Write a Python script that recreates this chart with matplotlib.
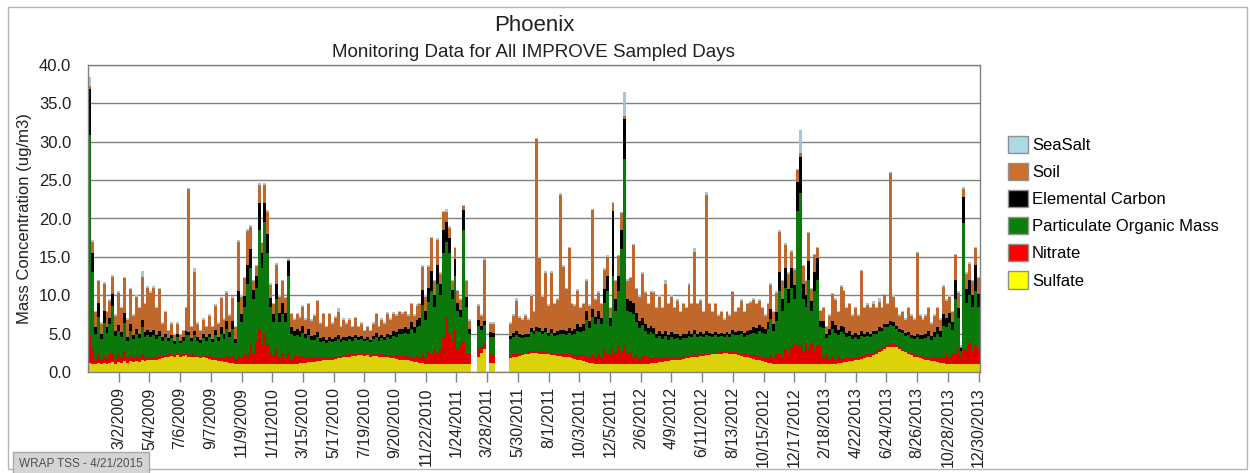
import datetime as dt

import numpy as np
import matplotlib
matplotlib.use("Agg")
import matplotlib.pyplot as plt
import matplotlib.dates as mdates
from matplotlib.patches import Patch, Rectangle

plt.rcParams["font.family"] = ["Liberation Sans", "DejaVu Sans"]

# IMPROVE samples, one kept every 6 days from 1/1/2009
first_sample = dt.date(2009, 1, 1)
sample_step_days = 6

# ug/m3, stacked bottom -> top: sulfate, nitrate, POM, EC, soil, sea salt
sulfate = [
    1.2, 1.0, 1.0, 1.2, 1.0, 1.2, 1.1, 1.2, 1.3, 1.1,
    1.3, 1.2, 1.4, 1.2, 1.4, 1.3, 1.4, 1.3, 1.5, 1.4,
    1.5, 1.5, 1.6, 1.6, 1.7, 1.8, 1.9, 2.0, 2.1, 2.0,
    2.2, 2.0, 2.1, 2.2, 2.0, 2.0, 2.0, 1.9, 1.8, 1.9,
    1.8, 1.7, 1.5, 1.5, 1.4, 1.4, 1.3, 1.3, 1.2, 1.2,
    1.1, 1.1, 1.0, 1.0, 1.0, 1.0, 1.0, 1.0, 1.0, 1.0,
    1.0, 1.0, 1.0, 1.0, 1.0, 1.0, 1.0, 1.0, 1.0, 1.0,
    1.1, 1.1, 1.2, 1.2, 1.2, 1.3, 1.3, 1.3, 1.4, 1.4,
    1.5, 1.5, 1.6, 1.6, 1.7, 1.8, 1.8, 1.9, 2.0, 2.0,
    2.1, 2.1, 2.2, 2.2, 2.1, 2.2, 2.0, 2.1, 2.1, 2.0,
    2.0, 1.9, 1.9, 1.8, 1.8, 1.7, 1.6, 1.6, 1.5, 1.5,
    1.4, 1.3, 1.3, 1.2, 1.2, 1.1, 1.1, 1.1, 1.0, 1.0,
    1.0, 1.0, 1.0, 1.0, 1.0, 1.0, 1.0, 1.0, 1.0, 1.0,
    1.0, 0.0, 0.0, 2.0, 2.5, 3.0, 0.0, 1.2, 1.2, 0.0,
    0.0, 0.0, 0.0, 0.0, 1.8, 2.0, 2.0, 2.1, 2.2, 2.3,
    2.4, 2.5, 2.5, 2.5, 2.4, 2.4, 2.3, 2.3, 2.2, 2.2,
    2.1, 2.1, 2.0, 2.0, 1.9, 1.8, 1.7, 1.6, 1.5, 1.4,
    1.3, 1.2, 1.2, 1.1, 1.1, 1.0, 1.0, 1.0, 1.0, 1.0,
    1.0, 1.0, 1.0, 1.0, 1.0, 1.0, 1.0, 1.0, 1.0, 1.1,
    1.1, 1.1, 1.2, 1.2, 1.2, 1.3, 1.3, 1.4, 1.4, 1.5,
    1.5, 1.6, 1.6, 1.7, 1.8, 1.8, 1.9, 2.0, 2.0, 2.1,
    2.1, 2.2, 2.2, 2.3, 2.3, 2.4, 2.4, 2.5, 2.5, 2.4,
    2.4, 2.3, 2.2, 2.1, 2.0, 1.9, 1.8, 1.7, 1.6, 1.5,
    1.4, 1.3, 1.2, 1.2, 1.1, 1.1, 1.0, 1.0, 1.0, 1.0,
    1.0, 1.0, 1.0, 1.0, 1.0, 1.0, 1.0, 1.0, 1.0, 1.0,
    1.0, 1.0, 1.0, 1.0, 1.1, 1.1, 1.2, 1.2, 1.3, 1.3,
    1.4, 1.4, 1.5, 1.6, 1.7, 1.8, 1.9, 2.0, 2.2, 2.4,
    2.6, 2.8, 3.0, 3.2, 3.3, 3.3, 3.2, 3.0, 2.8, 2.6,
    2.4, 2.2, 2.0, 1.9, 1.8, 1.7, 1.6, 1.5, 1.4, 1.4,
    1.3, 1.2, 1.2, 1.1, 1.1, 1.0, 1.0, 1.0, 1.0, 1.0,
    1.0, 1.0, 1.0, 1.0, 1.0,
]

nitrate = [
    3.5, 2.0, 0.7, 1.2, 0.5, 0.9, 0.6, 1.1, 1.2, 0.5,
    1.0, 0.8, 1.2, 0.6, 0.8, 0.6, 0.7, 0.6, 0.8, 0.6,
    0.5, 0.5, 0.4, 0.4, 0.4, 0.3, 0.3, 0.3, 0.3, 0.2,
    0.3, 0.2, 0.2, 0.3, 0.3, 0.2, 0.3, 0.2, 0.2, 0.3,
    0.3, 0.4, 0.4, 0.5, 0.5, 0.6, 0.6, 0.8, 0.8, 1.0,
    0.6, 1.0, 0.8, 1.5, 1.2, 2.5, 1.5, 3.0, 4.5, 2.5,
    4.0, 2.5, 1.5, 1.2, 2.0, 0.8, 1.5, 0.8, 1.5, 0.7,
    1.0, 1.0, 0.8, 0.9, 0.7, 0.7, 0.6, 0.5, 0.5, 0.4,
    0.4, 0.3, 0.3, 0.3, 0.3, 0.3, 0.2, 0.3, 0.2, 0.3,
    0.2, 0.3, 0.2, 0.2, 0.2, 0.2, 0.2, 0.2, 0.3, 0.2,
    0.3, 0.3, 0.3, 0.3, 0.4, 0.4, 0.5, 0.5, 0.6, 0.6,
    0.6, 0.5, 0.9, 0.6, 1.2, 0.8, 1.6, 1.2, 2.0, 1.5,
    2.0, 3.5, 6.0, 4.0, 3.0, 4.5, 2.0, 2.5, 3.0, 1.5,
    1.5, 0.0, 0.0, 1.0, 0.8, 0.6, 0.0, 1.2, 1.0, 0.0,
    0.0, 0.0, 0.0, 0.0, 0.3, 0.3, 0.3, 0.3, 0.2, 0.2,
    0.2, 0.3, 0.2, 0.3, 0.3, 0.2, 0.3, 0.2, 0.3, 0.2,
    0.3, 0.3, 0.3, 0.3, 0.4, 0.4, 0.5, 0.6, 0.7, 0.8,
    0.8, 0.6, 1.2, 0.8, 1.4, 1.0, 2.0, 1.5, 1.2, 2.0,
    1.5, 2.5, 1.8, 2.5, 1.5, 1.6, 1.0, 1.2, 0.7, 1.0,
    1.0, 0.8, 0.8, 0.7, 0.6, 0.6, 0.5, 0.5, 0.4, 0.4,
    0.4, 0.3, 0.3, 0.3, 0.3, 0.3, 0.3, 0.3, 0.2, 0.2,
    0.2, 0.2, 0.2, 0.2, 0.2, 0.2, 0.2, 0.2, 0.2, 0.2,
    0.3, 0.3, 0.3, 0.3, 0.3, 0.4, 0.4, 0.5, 0.5, 0.6,
    0.5, 0.7, 0.6, 1.0, 0.7, 1.2, 1.5, 1.0, 2.0, 1.4,
    2.2, 2.8, 2.5, 2.5, 1.8, 2.6, 2.0, 2.8, 1.8, 2.5,
    2.4, 1.0, 1.3, 0.7, 1.0, 0.6, 0.9, 0.5, 0.7, 0.5,
    0.6, 0.5, 0.5, 0.4, 0.4, 0.4, 0.4, 0.3, 0.3, 0.3,
    0.3, 0.3, 0.3, 0.3, 0.3, 0.3, 0.2, 0.2, 0.2, 0.2,
    0.2, 0.2, 0.3, 0.3, 0.3, 0.4, 0.4, 0.5, 0.5, 0.6,
    0.5, 0.8, 0.7, 1.2, 0.9, 1.5, 1.4, 2.0, 0.8, 2.0,
    1.8, 2.6, 1.6, 2.4, 2.0,
]

organic_mass = [
    26.2, 10.0, 3.3, 4.8, 2.8, 4.3, 3.4, 3.9, 6.1, 3.1,
    3.0, 2.6, 3.8, 2.2, 3.2, 2.4, 2.8, 2.5, 3.5, 2.6,
    2.8, 2.6, 2.8, 2.3, 2.6, 2.0, 2.3, 1.7, 2.0, 1.5,
    2.0, 1.6, 1.8, 2.3, 2.5, 1.8, 2.5, 2.0, 1.8, 2.2,
    2.0, 2.4, 2.0, 2.8, 2.2, 3.0, 2.4, 3.5, 2.6, 3.4,
    2.1, 7.0, 4.7, 6.0, 9.3, 10.0, 7.0, 7.0, 13.0, 10.0,
    14.5, 12.0, 6.0, 4.3, 6.5, 4.7, 5.0, 4.7, 10.0, 3.3,
    2.6, 2.7, 2.6, 3.0, 2.5, 2.8, 2.3, 2.4, 2.6, 2.1,
    2.2, 2.0, 2.2, 2.0, 2.1, 2.2, 1.9, 2.0, 1.9, 2.0,
    1.8, 2.0, 1.8, 1.9, 1.7, 1.8, 1.7, 2.0, 2.2, 1.9,
    2.1, 2.0, 2.3, 2.2, 2.5, 2.5, 2.8, 2.8, 3.0, 2.8,
    3.6, 3.3, 3.6, 4.2, 6.3, 4.9, 6.4, 8.3, 5.5, 9.0,
    7.0, 11.0, 10.0, 10.5, 5.5, 7.0, 5.0, 3.7, 14.5, 6.0,
    2.5, 0.0, 0.0, 3.0, 2.2, 2.5, 0.0, 2.2, 2.3, 0.0,
    0.0, 0.0, 0.0, 0.0, 2.2, 2.3, 2.5, 2.2, 2.0, 2.1,
    2.0, 2.4, 2.2, 2.5, 2.5, 2.3, 2.6, 2.2, 2.6, 2.3,
    2.4, 2.6, 2.7, 2.5, 2.8, 2.6, 2.8, 3.2, 3.0, 3.2,
    4.7, 3.9, 4.8, 4.3, 4.4, 4.2, 6.0, 8.0, 3.8, 9.5,
    5.5, 7.0, 13.2, 24.3, 5.5, 5.2, 5.5, 4.3, 4.0, 4.0,
    3.2, 3.0, 3.2, 3.0, 2.6, 2.8, 2.5, 2.8, 2.4, 2.6,
    2.4, 2.5, 2.3, 2.4, 2.3, 2.6, 2.3, 2.6, 2.3, 2.4,
    2.2, 2.4, 2.3, 2.1, 2.3, 2.0, 2.1, 1.9, 2.1, 2.0,
    2.3, 2.2, 2.3, 2.5, 2.3, 2.5, 2.7, 2.9, 2.9, 3.2,
    3.2, 2.9, 3.8, 4.7, 3.5, 4.3, 8.0, 6.0, 8.0, 6.6,
    7.8, 5.7, 17.5, 19.8, 6.7, 4.9, 9.0, 4.2, 7.7, 8.5,
    2.4, 3.7, 2.1, 3.1, 3.5, 3.4, 2.7, 3.5, 3.0, 2.7,
    2.7, 2.4, 2.5, 2.3, 2.6, 2.3, 2.4, 2.2, 2.4, 2.2,
    2.4, 2.2, 2.5, 2.3, 2.5, 2.4, 2.2, 2.0, 2.1, 1.9,
    2.2, 2.0, 2.0, 2.3, 2.2, 2.2, 2.4, 2.7, 2.3, 2.6,
    3.2, 2.6, 4.1, 3.5, 4.4, 3.0, 7.1, 4.0, 1.0, 16.4,
    6.2, 6.4, 5.9, 7.1, 5.5,
]

elemental_carbon = [
    6.0, 2.5, 0.8, 1.8, 0.6, 1.5, 0.8, 0.9, 1.6, 0.6,
    0.8, 0.6, 1.3, 0.5, 0.8, 0.5, 0.7, 0.6, 1.0, 0.6,
    0.7, 0.6, 0.7, 0.5, 0.6, 0.4, 0.5, 0.4, 0.4, 0.3,
    0.4, 0.3, 0.4, 0.5, 0.4, 0.4, 0.5, 0.4, 0.4, 0.5,
    0.4, 0.5, 0.4, 0.7, 0.5, 0.8, 0.6, 1.0, 0.6, 1.0,
    0.5, 1.5, 1.0, 1.4, 2.5, 2.5, 1.2, 1.5, 3.5, 2.0,
    2.5, 2.5, 1.2, 1.0, 2.0, 1.2, 1.5, 1.2, 2.0, 0.8,
    0.7, 0.8, 0.7, 0.9, 0.6, 0.8, 0.5, 0.6, 0.7, 0.5,
    0.5, 0.4, 0.5, 0.4, 0.4, 0.5, 0.4, 0.4, 0.4, 0.4,
    0.4, 0.4, 0.3, 0.4, 0.3, 0.3, 0.3, 0.4, 0.5, 0.4,
    0.4, 0.4, 0.5, 0.5, 0.6, 0.6, 0.7, 0.7, 0.8, 0.7,
    0.9, 0.8, 1.0, 1.0, 2.0, 1.2, 1.8, 2.5, 1.5, 2.5,
    1.5, 3.0, 2.5, 2.0, 1.2, 2.2, 1.0, 0.9, 2.6, 1.3,
    0.6, 0.0, 0.0, 0.8, 0.5, 0.5, 0.0, 0.6, 0.6, 0.0,
    0.0, 0.0, 0.0, 0.0, 0.4, 0.5, 0.6, 0.4, 0.4, 0.4,
    0.4, 0.5, 0.4, 0.5, 0.5, 0.4, 0.5, 0.4, 0.5, 0.4,
    0.5, 0.5, 0.5, 0.5, 0.6, 0.5, 0.6, 0.8, 0.7, 0.8,
    1.2, 0.9, 1.0, 1.0, 1.1, 0.9, 1.8, 2.0, 1.0, 8.5,
    1.5, 2.0, 2.5, 5.2, 1.5, 1.5, 1.5, 1.2, 1.0, 1.0,
    0.9, 0.8, 0.8, 0.8, 0.6, 0.7, 0.6, 0.7, 0.6, 0.7,
    0.6, 0.6, 0.5, 0.6, 0.5, 0.6, 0.5, 0.6, 0.5, 0.5,
    0.4, 0.5, 0.4, 0.4, 0.4, 0.4, 0.4, 0.3, 0.4, 0.4,
    0.5, 0.4, 0.5, 0.5, 0.5, 0.6, 0.6, 0.7, 0.7, 0.8,
    0.8, 0.7, 0.9, 1.3, 0.9, 1.2, 2.5, 1.5, 2.5, 1.8,
    2.5, 1.8, 3.8, 4.7, 2.0, 1.5, 2.5, 1.3, 2.5, 2.8,
    0.8, 1.0, 0.6, 0.8, 1.0, 1.0, 0.7, 0.8, 0.8, 0.6,
    0.6, 0.5, 0.6, 0.5, 0.6, 0.5, 0.5, 0.5, 0.5, 0.4,
    0.5, 0.4, 0.5, 0.4, 0.5, 0.5, 0.4, 0.4, 0.4, 0.4,
    0.4, 0.4, 0.4, 0.5, 0.5, 0.5, 0.5, 0.6, 0.5, 0.6,
    0.8, 0.7, 1.5, 1.2, 1.3, 1.0, 2.5, 1.3, 0.3, 3.4,
    1.8, 2.0, 1.5, 3.5, 1.6,
]

soil = [
    0.3, 1.5, 2.0, 2.8, 1.4, 3.6, 1.9, 2.2, 2.2, 2.0,
    4.2, 3.1, 4.5, 2.3, 4.6, 2.5, 4.2, 3.3, 5.6, 3.6,
    5.5, 5.1, 5.5, 3.5, 5.5, 1.8, 2.8, 0.9, 1.5, 0.8,
    1.4, 0.7, 0.8, 3.0, 18.6, 1.4, 7.7, 1.8, 1.1, 1.9,
    1.3, 2.3, 1.5, 3.1, 1.7, 3.8, 1.9, 3.7, 2.1, 3.1,
    1.5, 6.4, 2.3, 2.3, 4.4, 2.9, 1.1, 1.3, 2.4, 1.3,
    2.4, 2.9, 1.7, 1.3, 2.5, 2.1, 2.8, 1.9, 0.1, 1.7,
    1.4, 1.9, 1.8, 2.5, 1.8, 3.2, 2.0, 2.5, 4.0, 1.9,
    2.9, 1.6, 2.9, 2.0, 2.6, 3.0, 1.5, 2.2, 1.8, 2.1,
    1.3, 2.2, 1.3, 1.6, 1.0, 1.3, 1.1, 1.6, 2.4, 1.3,
    2.0, 1.7, 2.6, 2.0, 2.3, 2.1, 2.2, 2.0, 1.9, 1.7,
    2.3, 1.4, 1.8, 1.8, 3.0, 1.8, 2.8, 4.3, 1.8, 3.2,
    1.3, 2.3, 1.3, 1.3, 1.1, 1.4, 1.5, 1.3, 0.5, 2.0,
    1.1, 0.0, 0.0, 1.8, 1.3, 8.0, 0.0, 1.1, 1.2, 0.0,
    0.0, 0.0, 0.0, 0.0, 1.6, 2.2, 3.9, 2.1, 2.0, 2.3,
    1.8, 4.2, 2.5, 24.5, 9.1, 4.5, 7.2, 3.5, 7.3, 3.7,
    4.1, 17.6, 8.2, 5.5, 10.4, 3.5, 3.0, 4.4, 2.4, 2.6,
    3.9, 2.0, 12.9, 2.2, 2.3, 1.7, 2.5, 2.5, 1.3, 1.0,
    2.3, 2.6, 2.2, 0.3, 2.4, 2.9, 7.5, 3.1, 3.1, 5.7,
    4.1, 3.1, 4.4, 4.6, 3.3, 4.4, 3.4, 6.1, 4.0, 4.6,
    3.4, 4.3, 3.1, 3.8, 3.4, 6.1, 3.8, 10.1, 3.8, 4.1,
    2.9, 17.7, 3.7, 2.8, 3.6, 2.3, 2.7, 1.9, 2.6, 2.3,
    4.9, 2.6, 3.0, 3.9, 2.7, 3.4, 3.5, 3.6, 3.1, 3.2,
    2.4, 1.7, 2.3, 3.2, 1.6, 2.5, 5.3, 2.3, 3.1, 2.0,
    2.2, 2.0, 1.5, 0.5, 2.3, 1.8, 3.6, 1.5, 2.2, 1.3,
    1.3, 1.6, 0.8, 1.7, 3.5, 3.3, 2.3, 5.1, 4.7, 3.2,
    3.5, 2.5, 3.2, 2.5, 7.8, 3.3, 3.5, 3.3, 3.4, 3.0,
    3.3, 2.6, 3.7, 2.6, 19.3, 3.3, 2.3, 1.7, 2.3, 1.7,
    3.1, 2.5, 2.1, 10.5, 2.5, 2.0, 2.4, 3.0, 1.6, 2.1,
    2.5, 1.5, 3.6, 2.3, 2.1, 1.3, 3.2, 2.0, 0.2, 1.1,
    2.0, 2.1, 1.8, 2.1, 2.1,
]

sea_salt = [
    1.3, 0.2, 0.2, 0.2, 0.2, 0.2, 0.2, 0.2, 0.2, 0.2,
    0.2, 0.2, 0.2, 0.2, 0.2, 0.2, 0.2, 0.2, 0.8, 0.2,
    0.2, 0.2, 0.2, 0.2, 0.2, 0.2, 0.2, 0.2, 0.2, 0.2,
    0.2, 0.2, 0.2, 0.2, 0.2, 0.2, 0.5, 0.2, 0.2, 0.2,
    0.2, 0.2, 0.2, 0.2, 0.2, 0.2, 0.2, 0.2, 0.2, 0.2,
    0.2, 0.2, 0.2, 0.2, 0.2, 0.2, 0.2, 0.2, 0.2, 0.2,
    0.2, 0.2, 0.2, 0.2, 0.2, 0.2, 0.2, 0.2, 0.2, 0.2,
    0.2, 0.2, 0.2, 0.2, 0.2, 0.2, 0.2, 0.2, 0.2, 0.2,
    0.2, 0.2, 0.2, 0.2, 0.2, 0.5, 0.2, 0.2, 0.2, 0.2,
    0.2, 0.2, 0.2, 0.2, 0.2, 0.2, 0.2, 0.2, 0.2, 0.2,
    0.2, 0.2, 0.2, 0.2, 0.2, 0.2, 0.2, 0.2, 0.2, 0.2,
    0.2, 0.2, 0.2, 0.2, 0.2, 0.2, 0.2, 0.2, 0.2, 0.2,
    0.2, 0.2, 0.5, 0.2, 0.2, 0.2, 0.2, 0.2, 0.2, 0.2,
    0.2, 0.0, 0.0, 0.2, 0.2, 0.2, 0.0, 0.2, 0.2, 0.0,
    0.0, 0.0, 0.0, 0.0, 0.2, 0.2, 0.3, 0.2, 0.2, 0.2,
    0.2, 0.2, 0.2, 0.2, 0.2, 0.2, 0.2, 0.2, 0.2, 0.2,
    0.2, 0.2, 0.2, 0.2, 0.2, 0.2, 0.2, 0.2, 0.2, 0.2,
    0.2, 0.2, 0.2, 0.2, 0.2, 0.2, 0.2, 0.2, 0.2, 0.2,
    0.2, 0.2, 0.2, 3.2, 0.2, 0.2, 0.2, 0.2, 0.2, 0.2,
    0.2, 0.2, 0.2, 0.2, 0.2, 0.2, 0.2, 0.5, 0.2, 0.2,
    0.2, 0.2, 0.2, 0.2, 0.2, 0.2, 0.2, 0.5, 0.2, 0.2,
    0.2, 0.5, 0.2, 0.2, 0.2, 0.2, 0.2, 0.2, 0.2, 0.2,
    0.2, 0.2, 0.2, 0.2, 0.2, 0.2, 0.2, 0.2, 0.2, 0.2,
    0.2, 0.2, 0.2, 0.2, 0.2, 0.2, 0.2, 0.2, 0.2, 0.2,
    0.2, 0.2, 0.2, 3.0, 0.2, 0.2, 0.2, 0.2, 0.2, 0.2,
    0.2, 0.2, 0.2, 0.2, 0.2, 0.2, 0.2, 0.2, 0.2, 0.2,
    0.2, 0.2, 0.2, 0.2, 0.2, 0.2, 0.3, 0.2, 0.5, 0.2,
    0.5, 0.2, 0.2, 0.2, 0.2, 0.2, 0.2, 0.2, 0.2, 0.2,
    0.2, 0.2, 0.2, 0.2, 0.2, 0.2, 0.2, 0.2, 0.2, 0.2,
    0.2, 0.2, 0.2, 0.2, 0.2, 0.2, 0.2, 0.2, 0.2, 0.2,
    0.2, 0.2, 0.2, 0.2, 0.2,
]

tick_labels = [
    "3/2/2009", "5/4/2009", "7/6/2009", "9/7/2009", "11/9/2009",
    "1/11/2010", "3/15/2010", "5/17/2010", "7/19/2010", "9/20/2010",
    "11/22/2010", "1/24/2011", "3/28/2011", "5/30/2011", "8/1/2011",
    "10/3/2011", "12/5/2011", "2/6/2012", "4/9/2012", "6/11/2012",
    "8/13/2012", "10/15/2012", "12/17/2012", "2/18/2013", "4/22/2013",
    "6/24/2013", "8/26/2013", "10/28/2013", "12/30/2013",
]

# name, values, bar colour, legend colour (bottom of stack first)
layers = [
    ("Sulfate", sulfate, "#dcd20a", "#ffff00"),
    ("Nitrate", nitrate, "#e00000", "#ff0000"),
    ("Particulate Organic Mass", organic_mass, "#0b780b", "#0a800a"),
    ("Elemental Carbon", elemental_carbon, "#000000", "#000000"),
    ("Soil", soil, "#c0682c", "#cd6f2c"),
    ("SeaSalt", sea_salt, "#a3c8d2", "#add8e6"),
]

n = len(sulfate)
assert all(len(vals) == n for _, vals, _, _ in layers)
dates = [first_sample + dt.timedelta(days=sample_step_days * i) for i in range(n)]
x = mdates.date2num(dates)

W, H = 1250, 473
fig = plt.figure(figsize=(W / 100, H / 100), dpi=100)
ax = fig.add_axes([88 / W, 1 - 372 / H, (980 - 88) / W, (372 - 65) / H])

bottom = np.zeros(n)
for name, vals, color, _ in layers:
    v = np.asarray(vals, dtype=float)
    ax.bar(x, v, width=sample_step_days, bottom=bottom, color=color,
           linewidth=0, align="center")
    bottom += v

ax.set_xlim(mdates.date2num(dt.date(2008, 12, 29)), mdates.date2num(dt.date(2014, 1, 2)))
ax.set_ylim(0, 40)
ax.set_yticks(np.arange(0, 41, 5))
ax.set_yticklabels([f"{v:.1f}" for v in np.arange(0, 41, 5)])
tick_dates = [dt.datetime.strptime(s, "%m/%d/%Y") for s in tick_labels]
ax.set_xticks(mdates.date2num(tick_dates))
ax.set_xticklabels(tick_labels, rotation=90, va="top", ha="center")

ax.tick_params(axis="x", length=7, width=1, color="#808080", labelsize=11.5,
               pad=4, labelcolor="#202020")
ax.tick_params(axis="y", length=0, labelsize=12, pad=12, labelcolor="#202020")
ax.yaxis.grid(True, color="#808080", linewidth=1)
ax.set_axisbelow(True)
for sp in ax.spines.values():
    sp.set_color("#808080")
    sp.set_linewidth(1)
ax.set_ylabel("Mass Concentration (ug/m3)", fontsize=12, color="#202020", labelpad=5)

fig.text(534 / W, 1 - 31 / H, "Phoenix", ha="center", va="baseline",
         fontsize=16, color="#202020")
fig.text(533 / W, 1 - 57 / H, "Monitoring Data for All IMPROVE Sampled Days",
         ha="center", va="baseline", fontsize=13.5, color="#202020")

handles = [Patch(facecolor=lc, edgecolor="#909090", linewidth=1, label=name)
           for name, _, _, lc in reversed(layers)]
fig.legend(handles=handles, loc="upper left", bbox_to_anchor=(1001 / W, 1 - 129 / H),
           frameon=False, fontsize=12, handlelength=1.2, handleheight=1.2,
           handletextpad=0.25, labelspacing=0.6, borderaxespad=0)

# outer frame and footer stamp
fig.patches.append(Rectangle((8 / W, 4 / H), 1239 / W, 462 / H, transform=fig.transFigure,
                             fill=False, edgecolor="#b4b4b4", linewidth=1))
fig.text(19 / W, 1 - 467 / H, "WRAP TSS - 4/21/2015", fontsize=8.5, color="#505050",
         ha="left", va="baseline",
         bbox=dict(boxstyle="square,pad=0.5", facecolor="#d4d4d4", edgecolor="#a8a8a8"))

fig.savefig("out.png", dpi=100)
